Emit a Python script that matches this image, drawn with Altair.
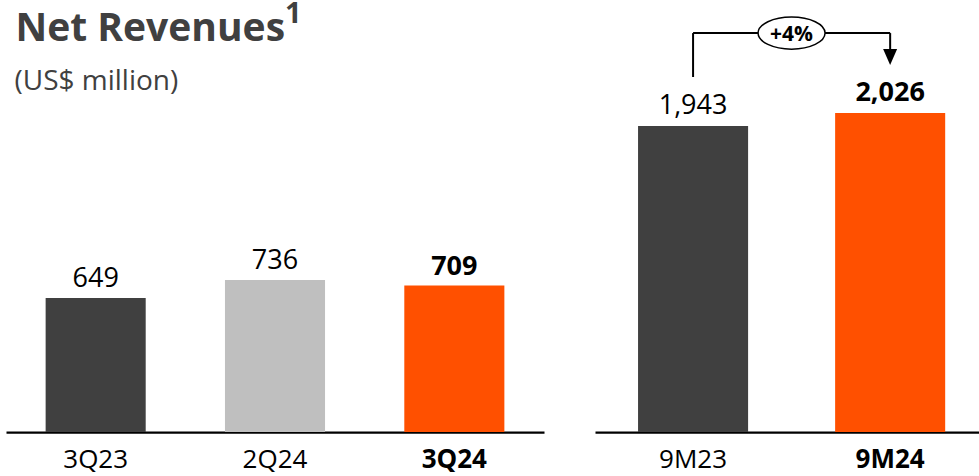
import altair as alt
import pandas as pd

# ---------------- data ----------------
left_cats = ["3Q23", "2Q24", "3Q24"]
left_vals = [649, 736, 709]
left_colors = ["#404040", "#BFBFBF", "#FF5000"]
left_bold = [False, False, True]

right_cats = ["9M23", "9M24"]
right_vals = [1943, 2026]
right_colors = ["#404040", "#FF5000"]
right_bold = [False, True]

title_text = ["Net Revenues"]
title_sup = ["1"]
subtitle_text = ["(US$ million)"]
growth_label = ["+4%"]

# annotation levels (in right-panel data units)
bracket_from = ["9M23"]
bracket_to = ["9M24"]
bracket_start = [2254]
bracket_level = [2533]
arrow_shaft_end = [2405]
arrow_head_level = [2381]

FONT = "Open Sans"
TXT = "#000000"
GREY = "#404040"

left_df = pd.DataFrame({"cat": left_cats, "val": left_vals,
                        "color": left_colors, "bold": left_bold})
right_df = pd.DataFrame({"cat": right_cats, "val": right_vals,
                         "color": right_colors, "bold": right_bold})


def make_axis(bold_cat):
    return alt.Axis(
        title=None, domain=True, domainColor="#000000", domainWidth=2.25,
        ticks=False, tickSize=0, grid=False, labelAngle=0,
        labelFont=FONT, labelFontSize=26, labelColor=TXT, labelPadding=14,
        labelFontWeight={"condition": {"test": f"datum.value == '{bold_cat}'", "value": "bold"},
                         "value": "normal"},
    )


def make_x(cats, pad_inner, pad_outer, align, bold_cat, field="cat"):
    return alt.X(f"{field}:N", sort=cats, title=None,
                 scale=alt.Scale(paddingInner=pad_inner, paddingOuter=pad_outer, align=align),
                 axis=make_axis(bold_cat))


def make_y(dmax, field="val"):
    return alt.Y(f"{field}:Q", scale=alt.Scale(domain=[0, dmax], nice=False, zero=True), axis=None)


def bar_panel(df, cats, pad_inner, pad_outer, align, bold_cat, dmax, dy):
    x = make_x(cats, pad_inner, pad_outer, align, bold_cat)
    y = make_y(dmax)
    base = alt.Chart(df)
    bars = base.mark_bar().encode(x=x, y=y, color=alt.Color("color:N", scale=None))
    lab_n = base.transform_filter("!datum.bold").mark_text(
        font=FONT, fontSize=27, dy=dy, baseline="alphabetic", color=TXT
    ).encode(x=x, y=y, text=alt.Text("val:Q", format=","))
    lab_b = base.transform_filter("datum.bold").mark_text(
        font=FONT, fontSize=27, fontWeight="bold", dy=dy, baseline="alphabetic", color=TXT
    ).encode(x=x, y=y, text=alt.Text("val:Q", format=","))
    return [bars, lab_n, lab_b]


LEFT_DMAX = 2092
RIGHT_DMAX = 2743

left_layers = bar_panel(left_df, left_cats, 0.442, 0.221, 0.5, "3Q24", LEFT_DMAX, -11)

title = alt.Chart(pd.DataFrame({"t": title_text})).mark_text(
    font=FONT, fontSize=39, fontWeight="bold", color=GREY, align="left", baseline="alphabetic"
).encode(x=alt.value(9.5), y=alt.value(41), text="t:N")
sup = alt.Chart(pd.DataFrame({"t": title_sup})).mark_text(
    font=FONT, fontSize=29, fontWeight="bold", color=GREY, align="left", baseline="alphabetic"
).encode(x=alt.value(279), y=alt.value(23), text="t:N")
subtitle = alt.Chart(pd.DataFrame({"t": subtitle_text})).mark_text(
    font=FONT, fontSize=28, color=GREY, align="left", baseline="alphabetic"
).encode(x=alt.value(8.5), y=alt.value(90), text="t:N")

left = alt.layer(*left_layers, title, sup, subtitle).properties(width=538, height=432)

right_layers = bar_panel(right_df, right_cats, 0.4416, 0.195, 0.56, "9M24", RIGHT_DMAX, -12)

ann_df = pd.DataFrame({
    "cat": bracket_from, "cat2": bracket_to,
    "start": bracket_start, "level": bracket_level,
    "shaft": arrow_shaft_end, "head": arrow_head_level,
    "label": growth_label,
})
ann_to_df = pd.DataFrame({
    "cat": bracket_to, "level": bracket_level,
    "shaft": arrow_shaft_end, "head": arrow_head_level,
})
xr = make_x(right_cats, 0.4416, 0.195, 0.56, "9M24")
ann = alt.Chart(ann_df)
ann_to = alt.Chart(ann_to_df)

rule_up = ann.mark_rule(color="#000000", strokeWidth=2).encode(
    x=xr, y=make_y(RIGHT_DMAX, "start"), y2="level:Q")
rule_h = ann.mark_rule(color="#000000", strokeWidth=2).encode(
    x=xr, x2="cat2:N", y=make_y(RIGHT_DMAX, "level"))
rule_down = ann_to.mark_rule(color="#000000", strokeWidth=2).encode(
    x=xr, y=make_y(RIGHT_DMAX, "level"), y2="shaft:Q")
head = ann_to.mark_point(
    shape="M-0.875,-1L0.875,-1L0,1Z", size=256, filled=True, color="#000000", opacity=1
).encode(x=xr, y=make_y(RIGHT_DMAX, "head"))
ellipse = ann.mark_point(
    shape="M-1,0A1,0.48 0 1,1 1,0A1,0.48 0 1,1 -1,0Z", size=4489, filled=True,
    fill="#FFFFFF", stroke="#000000", strokeWidth=1.5, opacity=1, xOffset=98.5
).encode(x=xr, y=make_y(RIGHT_DMAX, "level"))
pct = ann.mark_text(
    font=FONT, fontSize=21, fontWeight="bold", color=TXT, baseline="alphabetic", dx=98.5, dy=8
).encode(x=xr, y=make_y(RIGHT_DMAX, "level"), text="label:N")

right = alt.layer(*right_layers, rule_up, rule_h, rule_down, head, ellipse, pct).properties(
    width=384, height=432)

chart = alt.hconcat(left, right, spacing=51).properties(
    padding={"left": 6, "top": 0, "right": 0, "bottom": 0},
    background="#FFFFFF",
).configure(font=FONT).configure_view(stroke="transparent", strokeWidth=0)

chart.save("out.html", embed_options={"renderer": "svg", "actions": False})
